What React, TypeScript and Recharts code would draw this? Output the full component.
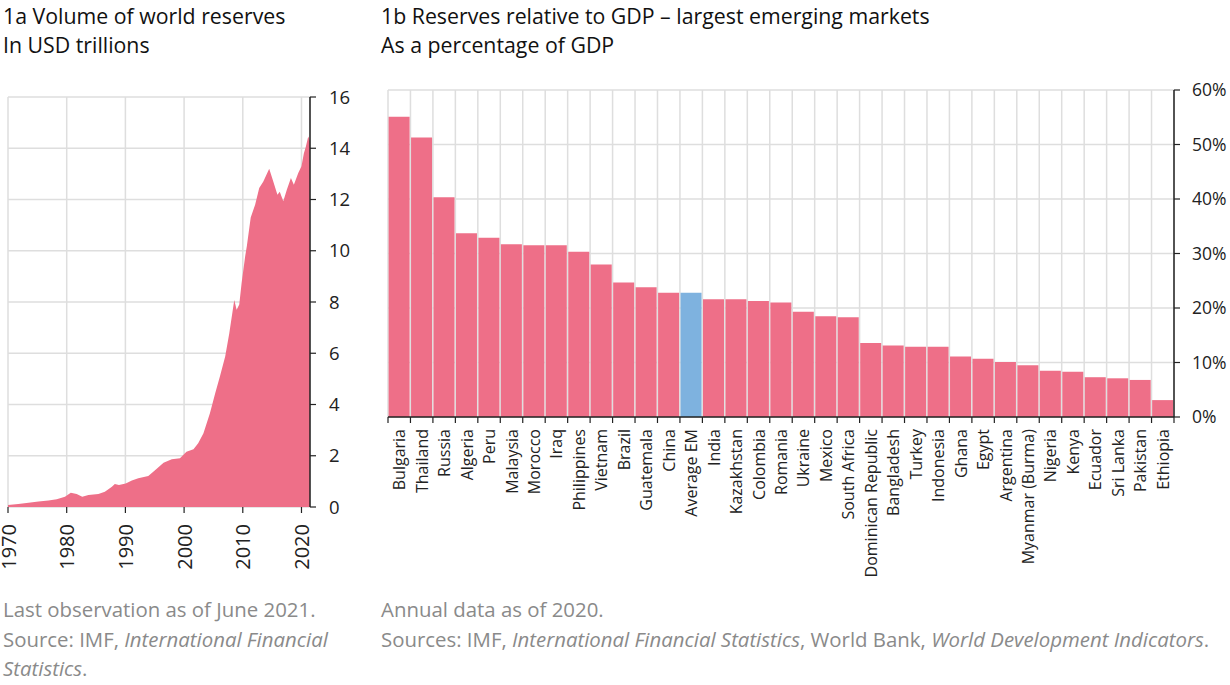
import React from 'react';
import {
  AreaChart, Area, BarChart, Bar, Cell, XAxis, YAxis, CartesianGrid,
} from 'recharts';

// 1a: world reserves, USD trillions (time as fractional year)
const reserveDates = [
  1970.0, 1971.75, 1973.5, 1975.2, 1976.9, 1978.3, 1979.7, 1980.7, 1981.7, 1982.65,
  1983.7, 1985.4, 1986.5, 1987.7, 1988.2, 1988.9, 1990.05, 1991.1, 1992.2, 1993.9,
  1995.0, 1996.5, 1997.9, 1999.3, 2000.4, 2001.6, 2002.4, 2003.3, 2004.4, 2005.3,
  2006.1, 2007.0, 2007.7, 2008.3, 2008.55, 2008.95, 2009.4, 2009.8, 2010.4, 2010.7,
  2011.35, 2012.1, 2012.8, 2013.5, 2014.5, 2015.1, 2015.9, 2016.3, 2016.9, 2017.5,
  2018.2, 2018.7, 2019.45, 2020.0, 2020.4, 2020.75, 2021.15, 2021.45,
];
const reserveValues = [
  0.08, 0.12, 0.17, 0.21, 0.25, 0.3, 0.4, 0.56, 0.51, 0.4,
  0.47, 0.51, 0.6, 0.79, 0.9, 0.86, 0.92, 1.03, 1.12, 1.21,
  1.42, 1.73, 1.86, 1.9, 2.16, 2.25, 2.49, 2.88, 3.66, 4.44,
  5.09, 5.87, 6.78, 7.7, 8.08, 7.7, 7.9, 8.74, 9.78, 10.2,
  11.3, 11.8, 12.45, 12.7, 13.2, 12.77, 12.19, 12.3, 11.93, 12.38,
  12.84, 12.58, 13.03, 13.3, 13.8, 14.07, 14.46, 14.27,
];
const yearTicks = [1970, 1980, 1990, 2000, 2010, 2020];
const volumeTicks = [0, 2, 4, 6, 8, 10, 12, 14, 16];

// 1b: reserves relative to GDP, %
const countries = [
  'Bulgaria', 'Thailand', 'Russia', 'Algeria', 'Peru', 'Malaysia', 'Morocco', 'Iraq',
  'Philippines', 'Vietnam', 'Brazil', 'Guatemala', 'China', 'Average EM', 'India',
  'Kazakhstan', 'Colombia', 'Romania', 'Ukraine', 'Mexico', 'South Africa',
  'Dominican Republic', 'Bangladesh', 'Turkey', 'Indonesia', 'Ghana', 'Egypt',
  'Argentina', 'Myanmar (Burma)', 'Nigeria', 'Kenya', 'Ecuador', 'Sri Lanka',
  'Pakistan', 'Ethiopia',
];
const reservesToGdp = [
  55.1, 51.3, 40.3, 33.7, 32.9, 31.7, 31.5, 31.5,
  30.3, 28.0, 24.7, 23.8, 22.8, 22.8, 21.6,
  21.6, 21.3, 21.0, 19.3, 18.5, 18.3,
  13.6, 13.1, 12.9, 12.9, 11.1, 10.7,
  10.1, 9.5, 8.5, 8.3, 7.3, 7.1,
  6.8, 3.1,
];
const pctTicks = [0, 10, 20, 30, 40, 50, 60];

const PINK = '#ee6f88';
const BLUE = '#7eb2df';
const GRID = '#dedede';
const FONT = '"Open Sans", "Noto Sans", sans-serif';

const areaData = reserveDates.map((t, i) => ({ t, v: reserveValues[i] }));
const barData = countries.map((name, i) => ({ name, v: reservesToGdp[i] }));

const YearTick = (props: any) => {
  const { x, y, payload } = props;
  return (
    <text
      x={x}
      y={y + 11}
      transform={`rotate(-90 ${x} ${y + 11})`}
      textAnchor="end"
      dominantBaseline="central"
      fontSize={20}
      fontFamily={FONT}
      fill="#222"
    >
      {payload.value}
    </text>
  );
};

const CountryTick = (props: any) => {
  const { x, y, payload, index } = props;
  const step = 786 / countries.length;
  return (
    <g>
      <line x1={x - step / 2} x2={x - step / 2} y1={y} y2={y + 6} stroke="#222" strokeWidth={1.2} />
      {index === countries.length - 1 && (
        <line x1={x + step / 2} x2={x + step / 2} y1={y} y2={y + 6} stroke="#222" strokeWidth={1.2} />
      )}
      <text
        x={x}
        y={y + 12}
        transform={`rotate(-90 ${x} ${y + 12})`}
        textAnchor="end"
        dominantBaseline="central"
        fontSize={16}
        fontFamily={FONT}
        fill="#222"
      >
        {payload.value}
      </text>
    </g>
  );
};

const titleStyle: React.CSSProperties = {
  position: 'absolute',
  top: 1,
  fontFamily: FONT,
  fontSize: 21.3,
  lineHeight: '29px',
  color: '#111',
  whiteSpace: 'nowrap',
};

const noteStyle: React.CSSProperties = {
  position: 'absolute',
  top: 595,
  fontFamily: FONT,
  fontSize: 20.4,
  lineHeight: '29.5px',
  color: '#8a8a8a',
  whiteSpace: 'nowrap',
};

export default function App() {
  return (
    <div style={{ position: 'absolute', left: 0, top: 0, width: 1230, height: 685, background: '#fff', overflow: 'hidden' }}>
      <div style={{ ...titleStyle, left: 3 }}>
        1a Volume of world reserves<br />In USD trillions
      </div>
      <div style={{ ...titleStyle, left: 381 }}>
        1b Reserves relative to GDP – largest emerging markets<br />As a percentage of GDP
      </div>

      <div style={{ position: 'absolute', left: 0, top: 0 }}>
        <AreaChart width={362} height={580} data={areaData} margin={{ top: 97, right: 0, bottom: 0, left: 8 }}>
          <CartesianGrid stroke={GRID} strokeWidth={1.5} />
          <XAxis
            dataKey="t"
            type="number"
            domain={[1970, 2021.45]}
            ticks={yearTicks}
            height={73}
            axisLine={false}
            tickLine={{ stroke: '#222', strokeWidth: 1.2 }}
            tickSize={6}
            tickMargin={0}
            tick={<YearTick />}
            interval={0}
          />
          <YAxis
            orientation="right"
            domain={[0, 16]}
            ticks={volumeTicks}
            width={52}
            axisLine={{ stroke: '#222', strokeWidth: 1.5 }}
            tickLine={{ stroke: '#222', strokeWidth: 1.2 }}
            tickSize={6}
            tickMargin={13}
            tick={{ fontSize: 18.5, fontFamily: FONT, fill: '#222' }}
            interval={0}
          />
          <Area
            dataKey="v"
            type="linear"
            stroke="none"
            fill={PINK}
            fillOpacity={1}
            isAnimationActive={false}
          />
        </AreaChart>
      </div>

      <div style={{ position: 'absolute', left: 380, top: 0 }}>
        <BarChart
          width={850}
          height={590}
          data={barData}
          margin={{ top: 90, right: 0, bottom: 0, left: 8 }}
          barCategoryGap={0.6}
        >
          <CartesianGrid
            stroke={GRID}
            strokeWidth={1.5}
            verticalCoordinatesGenerator={({ offset }: any) =>
              Array.from({ length: countries.length + 1 }, (_, i) => offset.left + (i * offset.width) / countries.length)
            }
          />
          <XAxis
            dataKey="name"
            type="category"
            height={173}
            axisLine={{ stroke: '#222', strokeWidth: 1.5 }}
            tickLine={false}
            tickSize={0}
            tickMargin={0}
            tick={<CountryTick />}
            interval={0}
          />
          <YAxis
            orientation="right"
            domain={[0, 60]}
            ticks={pctTicks}
            width={56}
            axisLine={{ stroke: '#222', strokeWidth: 1.5 }}
            tickLine={{ stroke: '#222', strokeWidth: 1.2 }}
            tickSize={6}
            tickMargin={12}
            tickFormatter={(v: number) => `${v}%`}
            tick={{ fontSize: 17.5, fontFamily: FONT, fill: '#222' }}
            interval={0}
          />
          <Bar dataKey="v" isAnimationActive={false}>
            {barData.map((d, i) => (
              <Cell key={`c-${i}`} fill={d.name === 'Average EM' ? BLUE : PINK} />
            ))}
          </Bar>
        </BarChart>
      </div>

      <div style={{ ...noteStyle, left: 3 }}>
        Last observation as of June 2021.<br />
        Source: IMF, <i>International Financial</i><br />
        <i>Statistics</i>.
      </div>
      <div style={{ ...noteStyle, left: 381 }}>
        Annual data as of 2020.<br />
        Sources: IMF, <i>International Financial Statistics</i>, World Bank, <i>World Development Indicators</i>.
      </div>
    </div>
  );
}
